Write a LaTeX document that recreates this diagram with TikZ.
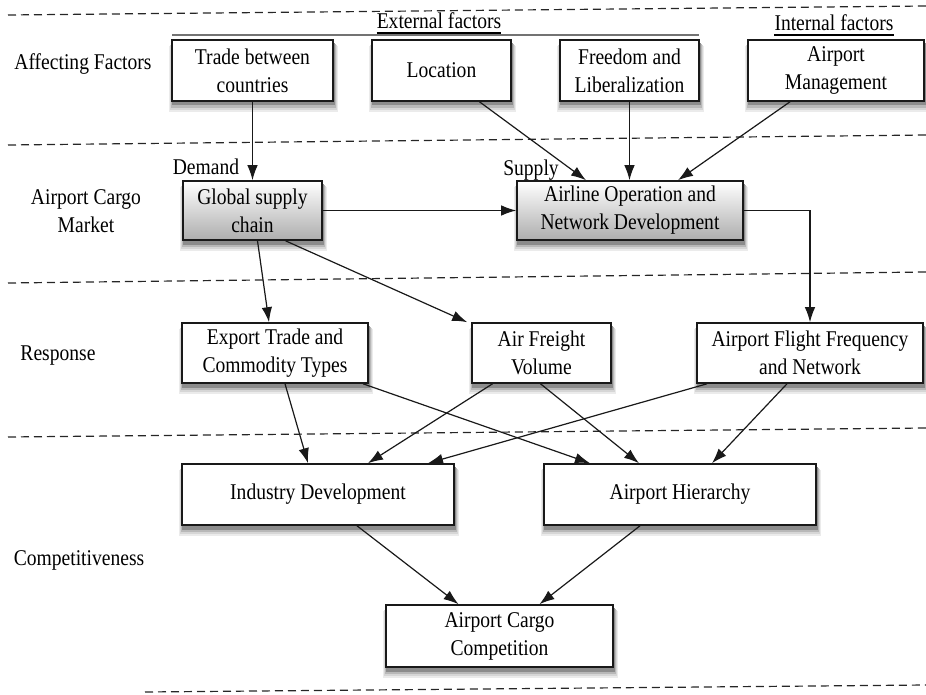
\documentclass[tikz,border=0pt]{standalone}
\usepackage{fontspec}
\setmainfont{Liberation Serif}[FakeStretch=0.87]
\usetikzlibrary{arrows.meta,calc}
\newcommand\mkshadow[4]{%
  \fill[black!8]  ({#1-#3/2-3},{#2-#4/2+6}) rectangle ({#1+#3/2+5},{#2+#4/2+11});
  \fill[black!16] ({#1-#3/2-2},{#2-#4/2+5}) rectangle ({#1+#3/2+4},{#2+#4/2+9});
  \fill[black!28] ({#1-#3/2-1},{#2-#4/2+4}) rectangle ({#1+#3/2+3},{#2+#4/2+7});
  \fill[black!45] ({#1-#3/2},{#2-#4/2+3}) rectangle ({#1+#3/2+2},{#2+#4/2+4.5});
}
\begin{document}
\begin{tikzpicture}[x=1pt,y=-1pt,
  font=\fontsize{22.5}{28}\selectfont,
  box/.style={draw=black!90, line width=1.6pt, fill=white, align=center, inner sep=0pt,
    minimum width=#1, minimum height=61pt},
  gbox/.style={box=#1, top color=white, bottom color=black!32},
  lbl/.style={align=center, inner sep=0pt},
  arr/.style={-{Latex[length=15pt,width=10.5pt]}, line width=1.2pt, draw=black!90},
  sep/.style={dashed, dash pattern=on 8pt off 5pt, line width=1.2pt, draw=black!85}
]
\useasboundingbox (0,0) rectangle (926,695);

% separators
\draw[sep] (8,15) -- (926,6);
\draw[sep] (8,145) -- (926,135);
\draw[sep] (8,283) -- (926,272);
\draw[sep] (8,437) -- (926,428);
\draw[sep] (145,692) -- (926,685);

% row labels
\node[lbl] (rl1) at (83,64) {Affecting Factors};
\node[lbl] (rl2) at (86,211) {Airport Cargo\\Market};
\node[lbl] (rl3) at (58,356) {Response};
\node[lbl] (rl4) at (79,560) {Competitiveness};

% group headers
\coordinate (gl1) at (172,35);
\coordinate (gl2) at (699,35);
\draw[black!55, line width=1.6pt] (gl1) -- (gl2);
\node[lbl, anchor=base] (ext) at (439,29) {External factors};
\draw[line width=1.3pt] ([yshift=-4pt]ext.base west) -- ([yshift=-4pt]ext.base east);
\node[lbl, anchor=base] (int) at (834,31) {Internal factors};
\draw[line width=1.3pt] ([yshift=-4pt]int.base west) -- ([yshift=-4pt]int.base east);

% shadows (drawn before the boxes)
\mkshadow{252.5}{70.5}{161}{61}
\mkshadow{441.5}{70.5}{139}{61}
\mkshadow{629.5}{70.5}{139}{61}
\mkshadow{836}{70.5}{176}{61}
\mkshadow{252.5}{210.5}{139}{59}
\mkshadow{630}{210.5}{226}{59}
\mkshadow{275}{353}{186}{60}
\mkshadow{541.5}{353}{139}{60}
\mkshadow{810}{353}{226}{60}
\mkshadow{318}{494.5}{272}{61}
\mkshadow{680}{494.5}{272}{61}
\mkshadow{499.5}{636}{227}{62}

% row 1
\node[box=161pt] (trade) at (252.5,70.5) {Trade between\\countries};
\node[box=139pt] (loc) at (441.5,70.5) {Location};
\node[box=139pt] (free) at (629.5,70.5) {Freedom and\\Liberalization};
\node[box=176pt] (mgmt) at (836,70.5) {Airport\\Management};

% row 2
\node[gbox=139pt, minimum height=59pt] (gsc) at (252.5,210.5) {Global supply\\chain};
\node[gbox=226pt, minimum height=59pt] (aond) at (630,210.5) {Airline Operation and\\Network Development};
\node[lbl] (dem) at (206,167) {Demand};
\node[lbl] (sup) at (531,170) {Supply};

% row 3
\node[box=186pt, minimum height=60pt] (etc) at (275,353) {Export Trade and\\Commodity Types};
\node[box=139pt, minimum height=60pt] (afv) at (541.5,353) {Air Freight\\Volume};
\node[box=226pt, minimum height=60pt] (affn) at (810,353) {Airport Flight Frequency\\and Network};

% row 4
\node[box=272pt] (ind) at (318,494.5) {Industry Development};
\node[box=272pt] (hier) at (680,494.5) {Airport Hierarchy};

% row 5
\node[box=227pt, minimum height=62pt] (acc) at (499.5,636) {Airport Cargo\\Competition};

% connectors
\draw[arr] (trade.south) -- (gsc.north);
\draw[arr] ([xshift=38pt]loc.south) -- ([xshift=-44pt]aond.north);
\draw[arr] (free.south) -- (free.south |- aond.north);
\draw[arr] ([xshift=-46pt]mgmt.south) -- ([xshift=48pt]aond.north);
\draw[arr] (gsc.east) -- (aond.west);
\draw[arr] (aond.east) -| (affn.north);

\draw[arr] ([xshift=5pt]gsc.south) -- ([xshift=-6pt]etc.north);
\draw[arr] ([xshift=33pt]gsc.south) -- ([xshift=-4pt]afv.north west);

\draw[arr] ([xshift=10pt]etc.south) -- ([xshift=-10pt]ind.north);
\draw[arr] ([xshift=88pt]etc.south) -- ([xshift=-90pt]hier.north);
\draw[arr] ([xshift=-49pt]afv.south) -- ([xshift=50pt]ind.north);
\draw[arr] ([xshift=-1pt]afv.south) -- ([xshift=-41pt]hier.north);
\draw[arr] ([xshift=-103pt]affn.south) -- ([xshift=110pt]ind.north);
\draw[arr] ([xshift=-23pt]affn.south) -- ([xshift=32pt]hier.north);

\draw[arr] ([xshift=39pt]ind.south) -- ([xshift=-41pt]acc.north);
\draw[arr] ([xshift=-40pt]hier.south) -- ([xshift=40pt]acc.north);
\end{tikzpicture}
\end{document}
